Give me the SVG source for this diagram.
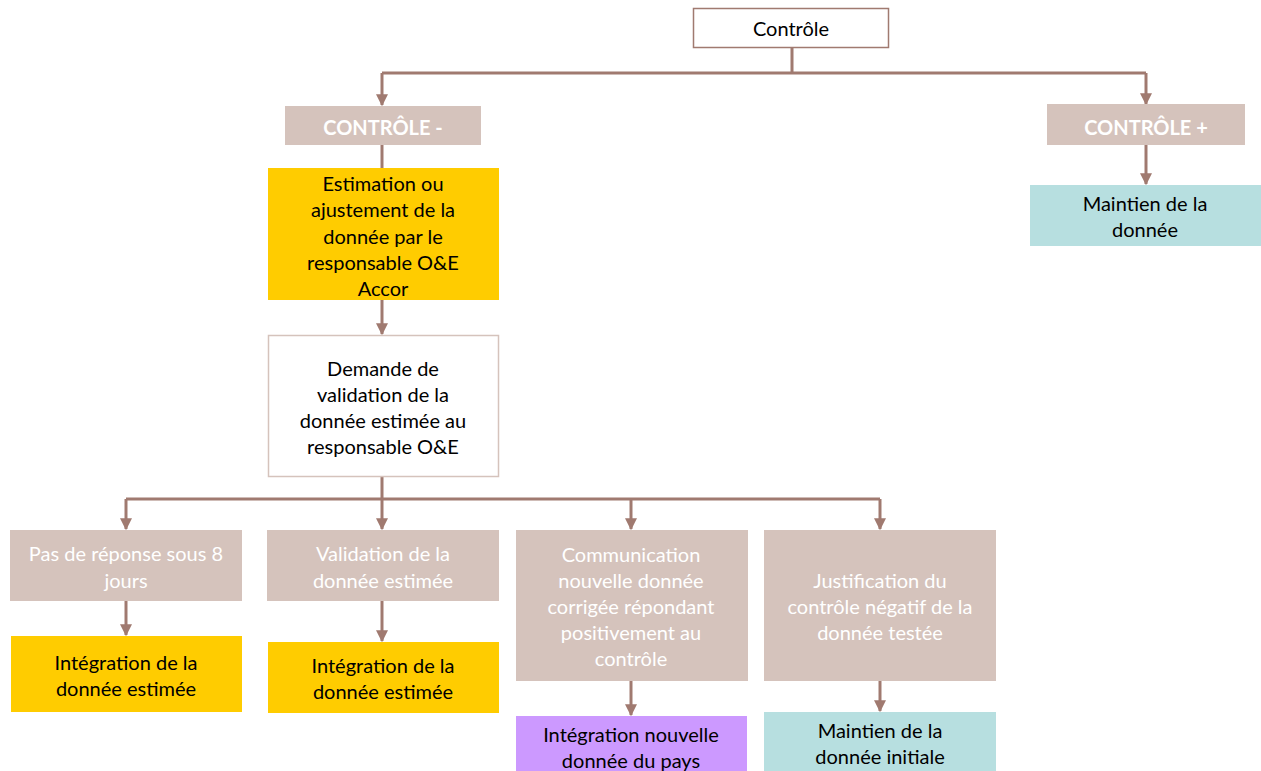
<svg xmlns="http://www.w3.org/2000/svg" width="1261" height="771" viewBox="0 0 1261 771">
<defs>
<marker id="ah" viewBox="0 0 10 10" refX="9" refY="5" markerWidth="4" markerHeight="4" orient="auto" markerUnits="strokeWidth">
<path d="M0,0 L10,5 L0,10 z" fill="#a07a70"/>
</marker>
<style>
text{font-family:Lato,"Open Sans","Liberation Sans",sans-serif;font-size:20px;text-anchor:middle;dominant-baseline:central}
.dk{fill:#000}
.wt{fill:#fff}
.b{font-weight:bold}
.tan{fill:#d5c3bc}
.yel{fill:#ffcc00}
.teal{fill:#b7dfe0}
.pur{fill:#cc99ff}
.c{fill:none;stroke:#a07a70;stroke-width:3}
.a{marker-end:url(#ah)}
</style>
</defs>
<rect width="1261" height="771" fill="#fff"/>
<g id="connectors">
<path class="c" d="M792,47 V73 M382,73 H1146"/>
<path class="c a" d="M382,73 V105"/>
<path class="c a" d="M1146,73 V104"/>
<path class="c" d="M382,145 V168"/>
<path class="c a" d="M1146,145 V184"/>
<path class="c a" d="M382,300 V334"/>
<path class="c" d="M382,476 V499 M126,499 H880"/>
<path class="c a" d="M126,499 V529"/>
<path class="c a" d="M382,499 V529"/>
<path class="c a" d="M631,499 V529"/>
<path class="c a" d="M880,499 V529"/>
<path class="c a" d="M126,601 V635"/>
<path class="c a" d="M382,601 V641"/>
<path class="c a" d="M631,681 V715"/>
<path class="c a" d="M880,681 V711"/>
</g>
<g id="n-controle">
<rect x="693.5" y="8.5" width="195" height="39" fill="#fff" stroke="#a07a70" stroke-width="1.5"/>
<text class="dk" x="791" y="28">Contrôle</text>
</g>
<g id="n-moins">
<rect class="tan" x="285" y="106" width="196" height="39"/>
<text class="wt b" x="383" y="127">CONTRÔLE -</text>
</g>
<g id="n-plus">
<rect class="tan" x="1047" y="104" width="198" height="41"/>
<text class="wt b" x="1146" y="127">CONTRÔLE +</text>
</g>
<g id="n-maintien1">
<rect class="teal" x="1030" y="185" width="231" height="61"/>
<text class="dk" x="1145" y="203">Maintien de la</text>
<text class="dk" x="1145" y="229">donnée</text>
</g>
<g id="n-estimation">
<rect class="yel" x="268" y="168" width="231" height="132"/>
<text class="dk" x="383" y="183">Estimation ou</text>
<text class="dk" x="383" y="209">ajustement de la</text>
<text class="dk" x="383" y="236">donnée par le</text>
<text class="dk" x="383" y="262">responsable O&amp;E</text>
<text class="dk" x="383" y="288">Accor</text>
</g>
<g id="n-demande">
<rect x="268.5" y="335.5" width="230" height="141" fill="#fff" stroke="#d5c3bc" stroke-width="1.5"/>
<text class="dk" x="383" y="368">Demande de</text>
<text class="dk" x="383" y="394">validation de la</text>
<text class="dk" x="383" y="420">donnée estimée au</text>
<text class="dk" x="383" y="446">responsable O&amp;E</text>
</g>
<g id="n-pas">
<rect class="tan" x="10" y="530" width="232" height="71"/>
<text class="wt" x="126" y="553">Pas de réponse sous 8</text>
<text class="wt" x="126" y="580">jours</text>
</g>
<g id="n-validation">
<rect class="tan" x="267" y="530" width="232" height="71"/>
<text class="wt" x="383" y="553">Validation de la</text>
<text class="wt" x="383" y="580">donnée estimée</text>
</g>
<g id="n-communication">
<rect class="tan" x="516" y="530" width="232" height="151"/>
<text class="wt" x="631" y="554">Communication</text>
<text class="wt" x="631" y="580">nouvelle donnée</text>
<text class="wt" x="631" y="606">corrigée répondant</text>
<text class="wt" x="631" y="632">positivement au</text>
<text class="wt" x="631" y="658">contrôle</text>
</g>
<g id="n-justification">
<rect class="tan" x="764" y="530" width="232" height="151"/>
<text class="wt" x="880" y="580">Justification du</text>
<text class="wt" x="880" y="606">contrôle négatif de la</text>
<text class="wt" x="880" y="632">donnée testée</text>
</g>
<g id="n-integ1">
<rect class="yel" x="11" y="636" width="231" height="76"/>
<text class="dk" x="126" y="662">Intégration de la</text>
<text class="dk" x="126" y="688">donnée estimée</text>
</g>
<g id="n-integ2">
<rect class="yel" x="268" y="642" width="231" height="71"/>
<text class="dk" x="383" y="665">Intégration de la</text>
<text class="dk" x="383" y="691">donnée estimée</text>
</g>
<g id="n-integ3">
<rect class="pur" x="516" y="716" width="231" height="55"/>
<text class="dk" x="631" y="734">Intégration nouvelle</text>
<text class="dk" x="631" y="760">donnée du pays</text>
</g>
<g id="n-maintien2">
<rect class="teal" x="764" y="712" width="232" height="59"/>
<text class="dk" x="880" y="730">Maintien de la</text>
<text class="dk" x="880" y="756">donnée initiale</text>
</g>
</svg>
